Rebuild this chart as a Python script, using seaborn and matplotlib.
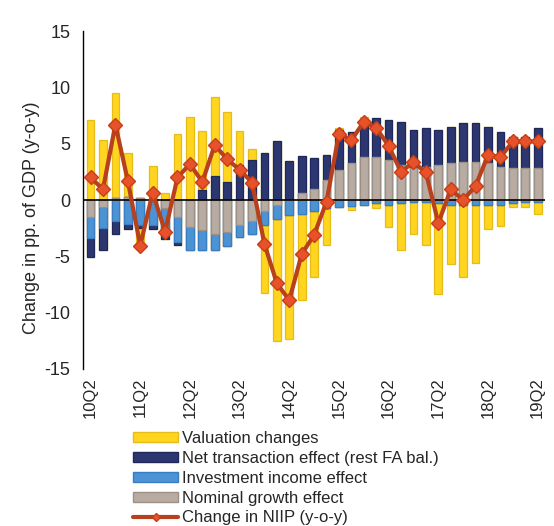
import matplotlib
matplotlib.use("Agg")
import matplotlib.pyplot as plt
import seaborn as sns
import numpy as np
from matplotlib.patches import Patch
from matplotlib.lines import Line2D

quarters = ["10Q2", "10Q3", "10Q4", "11Q1", "11Q2", "11Q3", "11Q4", "12Q1",
            "12Q2", "12Q3", "12Q4", "13Q1", "13Q2", "13Q3", "13Q4", "14Q1",
            "14Q2", "14Q3", "14Q4", "15Q1", "15Q2", "15Q3", "15Q4", "16Q1",
            "16Q2", "16Q3", "16Q4", "17Q1", "17Q2", "17Q3", "17Q4", "18Q1",
            "18Q2", "18Q3", "18Q4", "19Q1", "19Q2"]

nominal_growth = [-1.5, -0.6, 0.2, 0.3, 0.2, 0.0, -0.7, -1.5, -2.4, -2.7, -3.0, -2.8,
                  -2.2, -1.9, -1.0, -0.4, 0.0, 0.6, 1.0, 1.8, 2.7, 3.25, 3.85, 3.85,
                  3.55, 3.1, 2.8, 2.95, 3.1, 3.25, 3.4, 3.4, 3.25, 2.95, 2.8, 2.8, 2.8]
investment_income = [-1.9, -1.9, -1.9, -2.1, -2.2, -2.2, -2.4, -2.2, -2.0, -1.7, -1.4, -1.25,
                     -1.1, -1.1, -1.25, -1.25, -1.3, -1.2, -1.0, -0.7, -0.6, -0.5, -0.45, -0.3,
                     -0.4, -0.3, -0.2, -0.15, -0.3, -0.4, -0.4, -0.4, -0.4, -0.4, -0.25, -0.2, -0.15]
net_transaction = [-1.7, -1.9, -1.1, -0.5, -0.3, -0.35, -0.35, -0.25, 0.0, 0.9, 2.1, 1.6,
                   3.1, 3.55, 4.2, 5.2, 3.5, 3.3, 2.7, 2.2, 3.5, 2.8, 3.25, 3.4,
                   3.55, 3.85, 3.4, 3.4, 3.1, 3.25, 3.4, 3.4, 3.25, 3.1, 2.8, 2.8, 3.55]
valuation = [7.1, 5.3, 9.3, 3.9, -1.5, 3.0, 0.6, 5.9, 7.4, 5.2, 7.0, 6.2,
             3.0, 1.0, -6.0, -10.9, -11.0, -7.7, -5.8, -3.3, 0.2, -0.35, 0.3, -0.45,
             -2.0, -4.1, -2.8, -3.8, -8.0, -5.3, -6.4, -5.15, -2.2, -1.9, -0.35, -0.4, -1.1]
niip_change = [2.0, 0.95, 6.7, 1.7, -4.05, 0.65, -2.8, 2.0, 3.2, 1.6, 4.9, 3.6,
               2.7, 1.55, -3.9, -7.4, -8.9, -4.8, -3.1, -0.15, 5.9, 5.3, 6.95, 6.4,
               4.8, 2.5, 3.35, 2.45, -2.05, 0.95, 0.0, 1.25, 4.0, 3.8, 5.2, 5.2, 5.2]

labels = ["Valuation changes", "Net transaction effect (rest FA bal.)",
          "Investment income effect", "Nominal growth effect", "Change in NIIP (y-o-y)"]

# stacking order from zero outwards: grey, blue, navy, yellow
faces = ["#B8ABA1", "#4C93D6", "#2C3772", "#FFD51F"]
edges = ["#9E8F84", "#3A7DC0", "#1F2858", "#E6BC1A"]
line_c = "#B8401C"
mark_face = "#E8522A"
mark_edge = "#C43E17"

sns.set_theme(style="white")
plt.rcParams['font.family'] = ['Liberation Sans', 'DejaVu Sans']
plt.rcParams['axes.unicode_minus'] = False

fig = plt.figure(figsize=(5.54, 5.26), dpi=100)
ax = fig.add_axes([0.150, 0.2985, 0.834, 0.6425])

vals = np.array([nominal_growth, investment_income, net_transaction, valuation])
pos = np.clip(vals, 0, None).cumsum(axis=0)
neg = np.clip(vals, None, 0).cumsum(axis=0)

# draw outermost cumulative first, inner segments on top
for k in reversed(range(4)):
    for cum in (pos[k], neg[k]):
        sns.barplot(x=quarters, y=cum, color=faces[k], edgecolor=edges[k],
                    linewidth=0.9, width=0.62, saturation=1, errorbar=None, ax=ax)

ax.axhline(0, color="black", lw=1.2, zorder=3)

sns.pointplot(x=quarters, y=niip_change, color=line_c, marker="D", markersize=7,
              markerfacecolor=mark_face, markeredgecolor=mark_edge, markeredgewidth=1,
              linewidth=3.0, errorbar=None, ax=ax)
for ln in ax.lines[1:]:
    ln.set_zorder(4)

ax.set_xlim(-0.6, len(quarters) - 0.4)
ax.set_ylim(-15, 15)
ax.set_yticks(range(-15, 16, 5))
ax.set_ylabel("Change in pp. of GDP (y-o-y)", fontsize=13)
ax.yaxis.set_label_coords(-0.093, 0.447)
ax.set_xlabel("")
ax.tick_params(axis="y", length=0, pad=9, labelsize=13)
ax.tick_params(axis="x", length=0, pad=6, labelsize=12, rotation=90)
for i, lbl in enumerate(ax.get_xticklabels()):
    lbl.set_visible(i % 4 == 0)

sns.despine(ax=ax, bottom=True)
ax.spines["left"].set_color("black")
ax.spines["left"].set_linewidth(1.0)

handles = [Patch(facecolor=faces[3], edgecolor=edges[3]),
           Patch(facecolor=faces[2], edgecolor=edges[2]),
           Patch(facecolor=faces[1], edgecolor=edges[1]),
           Patch(facecolor=faces[0], edgecolor=edges[0]),
           Line2D([], [], color=line_c, lw=3, marker="D", markersize=4,
                  markerfacecolor=mark_face, markeredgecolor=mark_edge)]
fig.legend(handles, labels, loc="upper left", bbox_to_anchor=(133 / 554, 1 - 431 / 526),
           frameon=False, fontsize=12, handlelength=2.7, handleheight=0.55,
           labelspacing=0.29, handletextpad=0.25, borderaxespad=0, borderpad=0)

fig.savefig("out.png", dpi=100)
